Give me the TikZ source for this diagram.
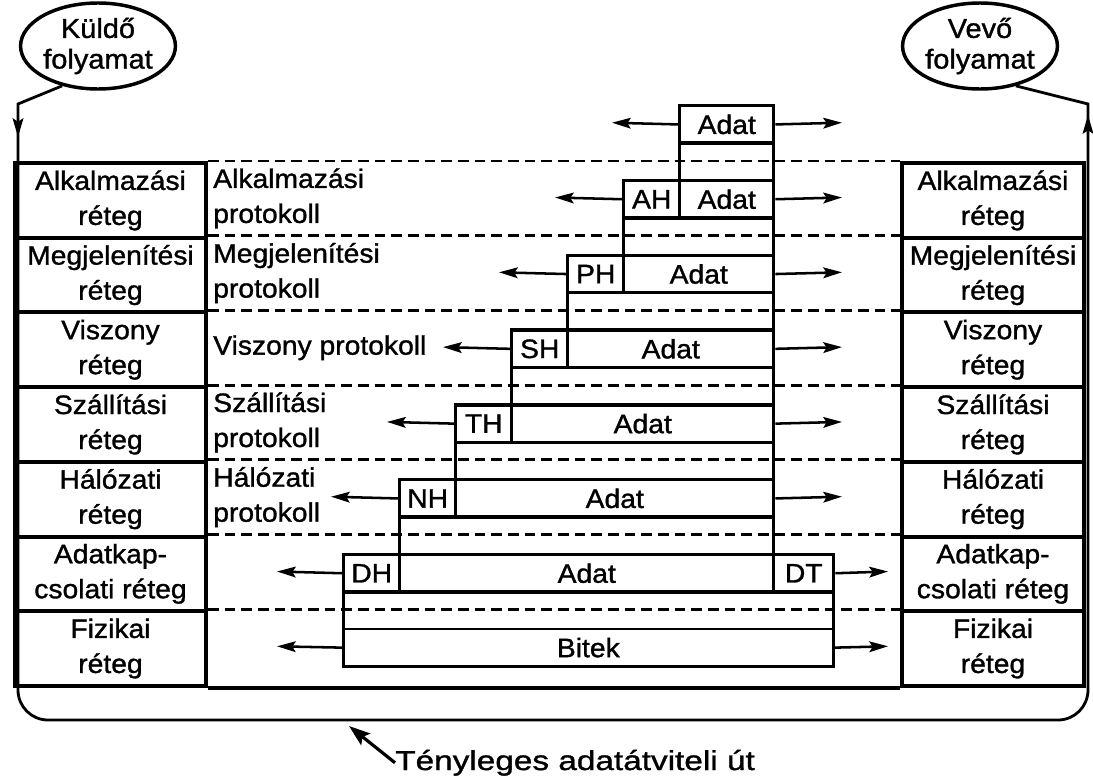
\documentclass[tikz,border=0pt]{standalone}
\usepackage{fontspec}
\setmainfont{Liberation Sans}[FakeStretch=1.06,FakeBold=1.2]
\newfontfamily\widefont{Liberation Sans}[FakeStretch=1.22,FakeBold=1.2]
\usetikzlibrary{arrows.meta,shapes.geometric}
\newcommand{\mkcell}[7]{\node[#1, anchor=north west, minimum width={(#4-#3)*0.75pt}, minimum height={#6*0.75pt}] (#2) at (#3,#5) {#7};}
\tikzset{
  lay/.style={draw, line width=3pt, inner sep=0pt, align=center},
  mid/.style={draw, line width=2.6pt, inner sep=0pt},
  thinbox/.style={draw, line width=2pt, inner sep=0pt},
  dsh/.style={line width=2.1pt, dash pattern=on 8pt off 4.5pt},
  arr/.style={line width=1.9pt, -{Stealth[length=14pt,width=8pt,inset=2.5pt]}},
  bigarr/.style={line width=2.4pt, -{Stealth[length=16pt,width=11pt,inset=3pt]}},
  route/.style={line width=2.1pt},
  proc/.style={ellipse, draw, line width=2.6pt, inner sep=0pt, align=center, minimum width=116*0.75pt, minimum height=86*0.75pt, font=\fontsize{20.5}{23}\selectfont},
  plabel/.style={anchor=west, align=left, inner sep=0pt}
}
\begin{document}
\begin{tikzpicture}[x=0.75pt, y=-0.75pt, font=\fontsize{20}{26.25}\selectfont]
\useasboundingbox (0,0) rectangle (1093,778);

% processes
\node[proc] (K) at (98,46) {Küldő\\folyamat};
\node[proc] (V) at (980,46) {Vevő\\folyamat};

% left stack
\mkcell{lay}{L1}{13}{204}{161}{74.7}{Alkalmazási\\réteg}
\mkcell{lay}{L2}{13}{204}{235.7}{74.7}{Megjelenítési\\réteg}
\mkcell{lay}{L3}{13}{204}{310.4}{74.7}{Viszony\\réteg}
\mkcell{lay}{L4}{13}{204}{385.1}{74.7}{Szállítási\\réteg}
\mkcell{lay}{L5}{13}{204}{459.8}{74.7}{Hálózati\\réteg}
\mkcell{lay}{L6}{13}{204}{534.5}{74.7}{Adatkap-\\csolati réteg}
\mkcell{lay}{L7}{13}{204}{609.2}{74.7}{Fizikai\\réteg}

% right stack
\mkcell{lay}{R1}{900}{1082}{161}{74.7}{Alkalmazási\\réteg}
\mkcell{lay}{R2}{900}{1082}{235.7}{74.7}{Megjelenítési\\réteg}
\mkcell{lay}{R3}{900}{1082}{310.4}{74.7}{Viszony\\réteg}
\mkcell{lay}{R4}{900}{1082}{385.1}{74.7}{Szállítási\\réteg}
\mkcell{lay}{R5}{900}{1082}{459.8}{74.7}{Hálózati\\réteg}
\mkcell{lay}{R6}{900}{1082}{534.5}{74.7}{Adatkap-\\csolati réteg}
\mkcell{lay}{R7}{900}{1082}{609.2}{74.7}{Fizikai\\réteg}

% dashed layer boundaries
\foreach \i in {1,...,7} {\draw[dsh] (L\i.north east) -- (R\i.north west);}
\draw[line width=3pt] (L7.south east) -- (R7.south west);

% protocol labels
\node[plabel] (P1) at (213,198.35) {Alkalmazási\\protokoll};
\node[plabel] (P2) at (213,273.05) {Megjelenítési\\protokoll};
\node[plabel] (P3) at (213,347.75) {Viszony protokoll};
\node[plabel] (P4) at (213,422.45) {Szállítási\\protokoll};
\node[plabel] (P5) at (213,497.15) {Hálózati\\protokoll};

% middle stack
\mkcell{mid}{D0}{678}{772}{104}{37.4}{Adat}
\mkcell{mid}{E0}{678}{772}{141.4}{37.4}{}
\mkcell{mid}{H1}{622}{678}{178.8}{37.4}{AH}
\mkcell{mid}{D1}{678}{772}{178.8}{37.4}{Adat}
\mkcell{mid}{E1}{622}{772}{216.2}{37.4}{}
\mkcell{mid}{H2}{566}{622}{253.6}{37.4}{PH}
\mkcell{mid}{D2}{622}{772}{253.6}{37.4}{Adat}
\mkcell{mid}{E2}{566}{772}{291.0}{37.4}{}
\mkcell{mid}{H3}{510}{566}{328.4}{37.4}{SH}
\mkcell{mid}{D3}{566}{772}{328.4}{37.4}{Adat}
\mkcell{mid}{E3}{510}{772}{365.8}{37.4}{}
\mkcell{mid}{H4}{454}{510}{403.2}{37.4}{TH}
\mkcell{mid}{D4}{510}{772}{403.2}{37.4}{Adat}
\mkcell{mid}{E4}{454}{772}{440.6}{37.4}{}
\mkcell{mid}{H5}{398}{454}{478.0}{37.4}{NH}
\mkcell{mid}{D5}{454}{772}{478.0}{37.4}{Adat}
\mkcell{mid}{E5}{398}{772}{515.4}{37.4}{}
\mkcell{mid}{H6}{342}{398}{552.8}{37.4}{DH}
\mkcell{mid}{D6}{398}{772}{552.8}{37.4}{Adat}
\mkcell{mid}{T6}{772}{832}{552.8}{37.4}{DT}
\mkcell{thinbox}{E6}{342}{832}{590.2}{37.4}{}
\mkcell{thinbox}{B7}{342}{832}{627.6}{37.4}{Bitek}

% arrow ends
\coordinate (a0l) at (612,122.7);  \coordinate (a0r) at (842,122.7);
\coordinate (a1l) at (555,197.5);  \coordinate (a1r) at (842,197.5);
\coordinate (a2l) at (499,272.3);  \coordinate (a2r) at (842,272.3);
\coordinate (a3l) at (443,347.1);  \coordinate (a3r) at (842,347.1);
\coordinate (a4l) at (387,421.9);  \coordinate (a4r) at (842,421.9);
\coordinate (a5l) at (331,496.7);  \coordinate (a5r) at (842,496.7);
\coordinate (a6l) at (277,571.5);  \coordinate (a6r) at (888,571.5);
\coordinate (a7l) at (277,646.3);  \coordinate (a7r) at (888,646.3);

\draw[arr] (D0.west) -- (a0l); \draw[arr] (D0.east) -- (a0r);
\draw[arr] (H1.west) -- (a1l); \draw[arr] (D1.east) -- (a1r);
\draw[arr] (H2.west) -- (a2l); \draw[arr] (D2.east) -- (a2r);
\draw[arr] (H3.west) -- (a3l); \draw[arr] (D3.east) -- (a3r);
\draw[arr] (H4.west) -- (a4l); \draw[arr] (D4.east) -- (a4r);
\draw[arr] (H5.west) -- (a5l); \draw[arr] (D5.east) -- (a5r);
\draw[arr] (H6.west) -- (a6l); \draw[arr] (T6.east) -- (a6r);
\draw[arr] (B7.west) -- (a7l); \draw[arr] (B7.east) -- (a7r);

% actual data path
\coordinate (kb) at (18,104);
\coordinate (ka) at (18,137);
\coordinate (kc) at (18,400);
\coordinate (bl) at (18,720);
\coordinate (br) at (1088,720);
\coordinate (vc) at (1088,400);
\coordinate (vb) at (1088,104);
\coordinate (vd) at (1088,150);
\coordinate (va) at (1088,115);
\draw[route] (K.228) -- (kb) -- (kc) [rounded corners=22.5pt] -- (bl) -- (br) -- (vc) [sharp corners] -- (vb) -- (V.312);
\draw[arr] (kb) -- (ka);
\draw[arr] (vd) -- (va);

% bottom label
\node[anchor=base west, inner sep=0pt, font=\widefont\fontsize{20.5}{24}\selectfont] (TL) at (395,770) {Tényleges adatátviteli út};
\coordinate (ttip) at (349,726);
\draw[bigarr] (TL.west) -- (ttip);
\end{tikzpicture}
\end{document}
